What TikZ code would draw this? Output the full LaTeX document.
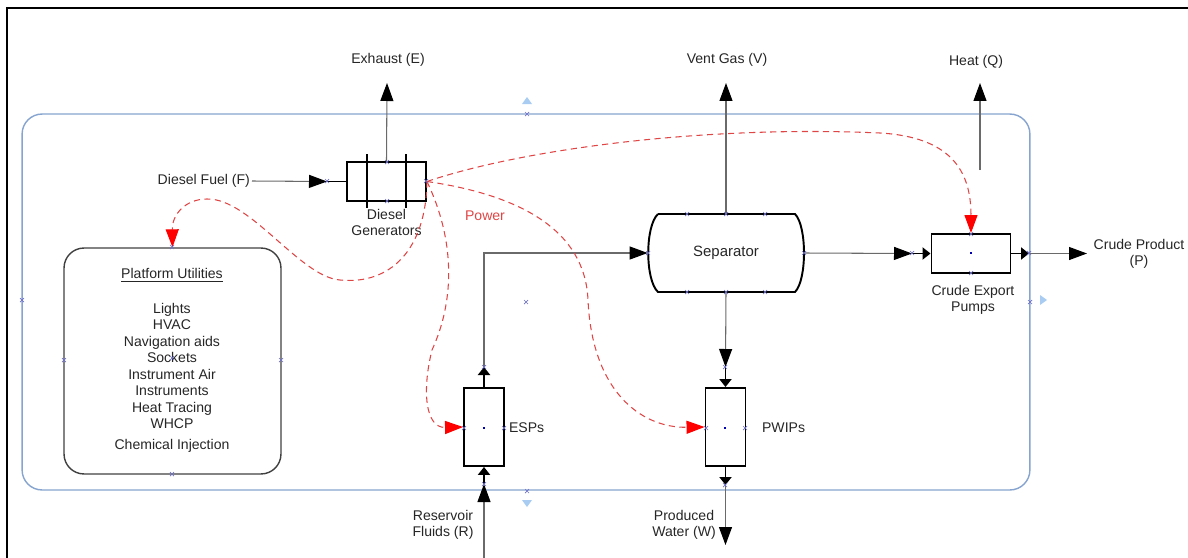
\documentclass[tikz,border=0pt]{standalone}
\usepackage{fontspec}
\setmainfont{Liberation Sans}
\usetikzlibrary{arrows.meta,positioning,calc}

\definecolor{txtgray}{HTML}{262626}
\definecolor{linegray}{HTML}{6A6A6A}
\definecolor{bndblue}{HTML}{86A4CF}
\definecolor{pwrred}{HTML}{E04545}
\definecolor{cpblue}{HTML}{7070C8}
\definecolor{handleblue}{HTML}{A9CDF2}

\begin{document}
\begin{tikzpicture}[x=0.02cm, y=-0.02cm,
  unit/.style={draw, line width=1.1pt, minimum width=1.58cm, minimum height=0.78cm, inner sep=0pt},
  pumpv/.style={draw, line width=1.1pt, minimum width=0.8cm, minimum height=1.56cm, inner sep=0pt},
  lbl/.style={font=\fontsize{8}{9.35}\selectfont, text=txtgray, align=center, inner sep=1pt},
  flow/.style={draw=linegray, line width=0.6pt},
  bigarr/.style={flow, -{Triangle[length=0.36cm, width=0.26cm, color=black]}},
  smallarr/.style={draw=black, line width=1.1pt, -{Triangle[length=0.16cm, width=0.24cm, color=black]}},
  pwr/.style={draw=pwrred, line width=0.6pt, dash pattern=on 3.5pt off 2.5pt, -{Triangle[length=0.36cm, width=0.26cm, color=red]}},
  cp/.style={draw=cpblue, line width=0.4pt}
]
\useasboundingbox (0,0) rectangle (1188,558);

% page frame
\draw[line width=1.2pt] (7,558) -- (7,8) -- (1188,8);

% control volume
\node[draw=bndblue, line width=0.8pt, rounded corners=0.4cm, minimum width=20.16cm, minimum height=7.52cm, inner sep=0pt] (cv) at (526,302) {};

% Diesel generators
\node[unit] (gen) at (386.5,181.5) {};
\draw[line width=1.1pt] (367,154) -- (367,208) (406,154) -- (406,208);
\node[lbl, below=3pt of gen] (genlbl) {Diesel\\Generators};
\node[lbl, anchor=east] (fuel) at (252,181) {Diesel Fuel (F)};
\coordinate (cpF) at (327,181.5);
\draw[bigarr] (fuel.east) -- (cpF);
\draw[line width=1.1pt] (cpF) -- (gen.west);
\node[lbl] (exh) at (388,60) {Exhaust (E)};
\coordinate (exhtip) at (387,83);
\draw[bigarr] (gen.north) -- (exhtip);

% Platform utilities
\node[draw=black!75, line width=0.8pt, rounded corners=0.4cm, minimum width=4.34cm, minimum height=4.52cm, inner sep=0pt] (util) at (172.5,361) {};
\node[lbl] (utiltitle) at (172,275) {\underline{Platform Utilities}};
\node[lbl, anchor=north, inner sep=0pt] (utillist) at (172,303) {Lights\\HVAC\\Navigation aids\\Sockets\\Instrument Air\\Instruments\\Heat Tracing\\WHCP\\[2.6pt]Chemical Injection};

% Separator
\node[lbl, minimum width=3.12cm, minimum height=1.56cm, inner sep=0pt, font=\fontsize{8.5}{10}\selectfont] (sep) at (726,253) {Separator};
\draw[line width=1.1pt] (658,214) -- (795,214) .. controls (807,226) and (807,280) .. (795,292)
  -- (658,292) .. controls (645,280) and (645,226) .. (658,214);
\node[lbl] (vent) at (727,60) {Vent Gas (V)};
\coordinate (venttip) at (726,83);
\draw[bigarr] (sep.north) -- (venttip);

% Crude export pumps
\node[unit] (pump) at (971,253.5) {};
\node[lbl] (pumplbl) at (973,300) {Crude Export\\Pumps};
\coordinate (cpP1) at (912,253.5);
\draw[bigarr] (sep.east) -- (cpP1);
\draw[smallarr] (cpP1) -- (pump.west);
\coordinate (cpP2) at (1029,253.5);
\draw[smallarr] (pump.east) -- (cpP2);
\coordinate (prodtip) at (1087,253.5);
\draw[bigarr] (cpP2) -- (prodtip);
\node[lbl] (prod) at (1139,254) {Crude Product\\(P)};
\coordinate (heatsrc) at (980,170);
\coordinate (heattip) at (980,83);
\draw[bigarr] (heatsrc) -- (heattip);
\node[lbl] (heat) at (976,62) {Heat (Q)};

% PWIPs
\node[pumpv] (pwip) at (725.5,427) {};
\node[lbl, anchor=west] (pwiplbl) at (760,428) {PWIPs};
\coordinate (cpW1) at (725.5,367);
\draw[bigarr] (sep.south) -- (cpW1);
\draw[smallarr] (cpW1) -- (pwip.north);
\coordinate (cpW2) at (725.5,485);
\draw[smallarr] (pwip.south) -- (cpW2);
\coordinate (watertip) at (725.5,545);
\draw[bigarr] (cpW2) -- (watertip);
\node[lbl] (water) at (684,525) {Produced\\Water (W)};

% ESPs
\node[pumpv] (esp) at (484,427) {};
\node[lbl, anchor=west] (esplbl) at (507,428) {ESPs};
\coordinate (resin) at (484,558);
\coordinate (cpR) at (484,484);
\draw[bigarr] (resin) -- (cpR);
\draw[smallarr] (cpR) -- (esp.south);
\coordinate (cpE) at (484,367);
\draw[smallarr] (esp.north) -- (cpE);
\draw[bigarr] (cpE) |- (sep.west);
\node[lbl] (res) at (443,525) {Reservoir\\Fluids (R)};

% Power distribution
\node[lbl, text=pwrred] (pwrlbl) at (485,216) {Power};
\draw[pwr] (gen.east) .. controls (426,250) and (390,285) .. (340,280)
  .. controls (300,277) and (250,198) .. (207,199)
  .. controls (185,199) and (172,215) .. (util.north);
\draw[pwr] (gen.east) .. controls (455,240) and (455,300) .. (432,350)
  .. controls (422,390) and (425,428) .. (esp.west);
\draw[pwr] (gen.east) .. controls (520,195) and (585,230) .. (588,300)
  .. controls (592,390) and (640,428) .. (pwip.west);
\draw[pwr] (gen.east) .. controls (520,150) and (700,125) .. (880,133)
  .. controls (950,137) and (971,170) .. (pump.north);

% connection points and handles
\foreach \x/\y in {527/114, 22/300, 1030/302, 527/491, 526/302,
  387/162, 387/201, 426/181, 327/181,
  172/247, 64/360, 281/360, 172/358, 172/474,
  687/214, 726/214, 765/214, 687/292, 726/292, 765/292, 648/253, 804/253,
  912/253, 971/234, 971/273, 1029/253,
  464/428, 504/428, 484/367, 484/484,
  706/428, 745/428, 725/367, 725/485}
  \draw[cp] (\x-2,\y-2) -- (\x+2,\y+2) (\x-2,\y+2) -- (\x+2,\y-2);
\foreach \x/\y in {971/253, 484/428, 725/428}
  \fill[blue!70!black] (\x-1.2,\y-1.2) rectangle (\x+1.2,\y+1.2);
\fill[handleblue] (522,104) -- (532,104) -- (527,97) -- cycle;
\fill[handleblue] (522,500) -- (532,500) -- (527,507) -- cycle;
\fill[handleblue] (1040,295) -- (1040,305) -- (1047,300) -- cycle;

\end{tikzpicture}
\end{document}
